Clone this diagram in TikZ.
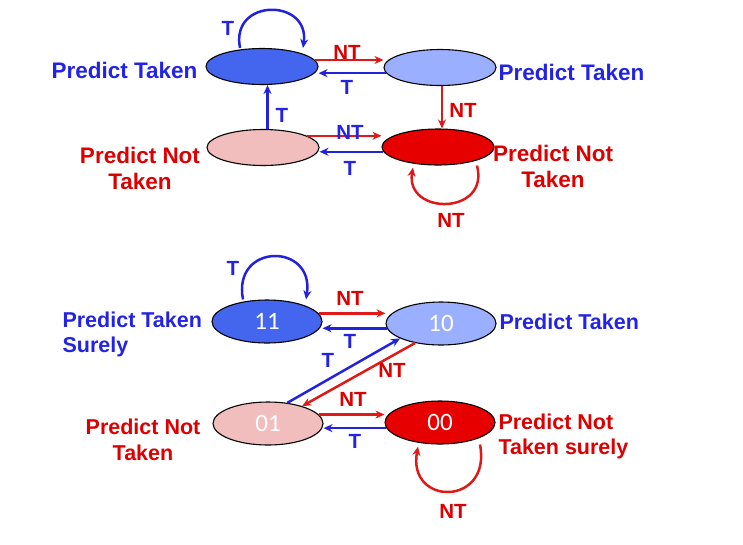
\documentclass[tikz,border=0pt]{standalone}
\usepackage{fontspec}
\setmainfont{Liberation Sans}
\newfontfamily\numfont{Carlito}
\usetikzlibrary{arrows.meta,shapes.geometric}
\definecolor{dkblue}{RGB}{68,102,238}
\definecolor{ltblue}{RGB}{154,175,255}
\definecolor{pinkst}{RGB}{242,189,189}
\definecolor{redst}{RGB}{230,0,0}
\definecolor{txtblue}{RGB}{35,35,230}
\definecolor{txtred}{RGB}{221,0,0}
\definecolor{arrblue}{RGB}{34,34,221}
\definecolor{arrred}{RGB}{224,24,24}
\begin{document}
\begin{tikzpicture}[x=1pt,y=-1pt,
  st/.style={ellipse,draw=black,line width=1.1pt,inner sep=0pt,text=white,font=\numfont\fontsize{25}{25}\selectfont},
  sttop/.style={st,minimum width=112pt,minimum height=36pt},
  stbot/.style={st,minimum width=110pt,minimum height=43pt},
  lbl/.style={font=\bfseries\fontsize{22.5}{26}\selectfont},
  lblb/.style={font=\bfseries\fontsize{21.5}{25.5}\selectfont},
  albl/.style={font=\bfseries\fontsize{20.5}{20}\selectfont,inner sep=0pt},
  tb/.style={albl,text=txtblue},
  tr/.style={albl,text=txtred},
  ab/.style={draw=arrblue,line width=2.5pt,-{Stealth[length=9pt,width=8pt]}},
  ar/.style={draw=arrred,line width=2.5pt,-{Stealth[length=9pt,width=8pt]}}
]
\useasboundingbox (0,0) rectangle (743,544);

% ---------- top diagram ----------
\node[sttop,fill=dkblue] (A) at (262,66.5) {};
\node[sttop,fill=ltblue] (B) at (440,67.5) {};
\node[sttop,fill=pinkst] (C) at (263,147.5) {};
\node[sttop,fill=redst] (D) at (438,147) {};

\draw[ar] (A.7) -- (A.7 -| B.west);
\draw[ab] (B.186) -- (B.186 -| A.east);
\draw[ab] ([xshift=4.5pt]C.north) -- ([xshift=4.5pt]C.north |- A.south);
\draw[ar] ([xshift=2pt]B.south) -- ([xshift=2pt]B.south |- D.north);
\draw[ar] (C.15) -- (C.15 -| D.west);
\draw[ab] (D.185) -- (D.185 -| C.east);
\draw[ab] ([xshift=-22pt]A.north) .. controls ([xshift=-32pt,yshift=50pt]A.north) and ([xshift=48pt,yshift=50pt]A.north) .. ([xshift=41pt]A.north);
\draw[ar] ([xshift=39pt]D.south) .. controls ([xshift=52pt,yshift=-50pt]D.south) and ([xshift=-33pt,yshift=-50pt]D.south) .. ([xshift=-25pt,yshift=-2pt]D.south);

\node[tr] (l1) at (347,52) {NT};
\node[tb] (l2) at (347,87) {T};
\node[tb] (l3) at (282,115) {T};
\node[tr] (l4) at (463,110) {NT};
\node[tb] (l5) at (350,132) {NT};
\node[tb] (l6) at (350,168) {T};
\node[tb] (l7) at (228,28) {T};
\node[tr] (l8) at (451,220) {NT};

\node[lbl,text=txtblue,anchor=east] (tA) at (201,70.5) {Predict Taken};
\node[lbl,text=txtblue,anchor=west] (tB) at (495,72) {Predict Taken};
\node[lbl,text=txtred,align=center] (tC) at (140,168) {Predict Not\\Taken};
\node[lbl,text=txtred,align=center] (tD) at (553,166) {Predict Not\\Taken};

% ---------- bottom diagram ----------
\node[stbot,fill=dkblue] (E) at (267,321.5) {11};
\node[stbot,fill=ltblue] (F) at (441,323.5) {10};
\node[stbot,fill=pinkst] (G) at (268,423.5) {01};
\node[stbot,fill=redst] (H) at (440,422.5) {00};

\draw[ar] (E.9) -- (E.9 -| F.west);
\draw[ab] (F.185) -- (F.185 -| E.east);
\draw[ab] (G.47) -- (F.200);
\draw[ar] (F.217) -- (G.27);
\draw[ar] (G.10) -- (G.10 -| H.west);
\draw[ab] (H.186) -- (H.186 -| G.east);
\draw[ab] ([xshift=-24pt]E.north) .. controls ([xshift=-35pt,yshift=57pt]E.north) and ([xshift=48pt,yshift=57pt]E.north) .. ([xshift=39pt]E.north);
\draw[ar] ([xshift=40pt]H.south) .. controls ([xshift=52pt,yshift=-62pt]H.south) and ([xshift=-33pt,yshift=-62pt]H.south) .. ([xshift=-22pt,yshift=-2pt]H.south);

\node[tb] (m1) at (233,268) {T};
\node[tr] (m2) at (350,298) {NT};
\node[tb] (m3) at (350,341) {T};
\node[tb] (m4) at (328,360) {T};
\node[tr] (m5) at (392,370) {NT};
\node[tr] (m6) at (353,399) {NT};
\node[tb] (m7) at (355,441) {T};
\node[tr] (m8) at (453,511) {NT};

\node[lblb,text=txtblue,anchor=west,align=left] (tE) at (59,334.5) {Predict Taken\\Surely};
\node[lblb,text=txtblue,anchor=west] (tF) at (496,322) {Predict Taken};
\node[lblb,text=txtred,align=center] (tG) at (143,440) {Predict Not\\Taken};
\node[lblb,text=txtred,anchor=west,align=left] (tH) at (495,436.5) {Predict Not\\Taken surely};
\end{tikzpicture}
\end{document}
